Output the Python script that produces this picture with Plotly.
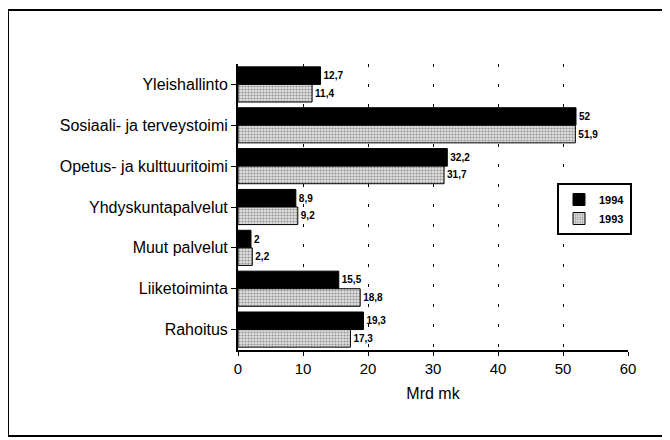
import plotly.graph_objects as go

categories = ["Yleishallinto", "Sosiaali- ja terveystoimi", "Opetus- ja kulttuuritoimi",
              "Yhdyskuntapalvelut", "Muut palvelut", "Liiketoiminta", "Rahoitus"]
values_1994 = [12.7, 52, 32.2, 8.9, 2, 15.5, 19.3]
values_1993 = [11.4, 51.9, 31.7, 9.2, 2.2, 18.8, 17.3]
labels_1994 = ["12,7", "52", "32,2", "8,9", "2", "15,5", "19,3"]
labels_1993 = ["11,4", "51,9", "31,7", "9,2", "2,2", "18,8", "17,3"]
x_ticks = [0, 10, 20, 30, 40, 50, 60]

font_main = "Liberation Sans, Arial, sans-serif"

# page offset of 8px (body margin) is compensated in the figure size / margins
L, R_EDGE, T, B_EDGE = 230, 620, 56, 342
W, H = 662, 432
PW, PH = R_EDGE - L, B_EDGE - T


def px(fx):
    return (fx - L) / PW


def py(fy):
    return (B_EDGE - fy) / PH


fig = go.Figure()
fig.add_trace(go.Bar(
    y=categories, x=values_1994, name="1994", orientation="h",
    marker=dict(color="black", line=dict(color="black", width=1)),
    text=labels_1994, textposition="outside", cliponaxis=False,
    textfont=dict(size=10, color="black", family=font_main, weight="bold"),
))
fig.add_trace(go.Bar(
    y=categories, x=values_1993, name="1993", orientation="h",
    marker=dict(color="#d9d9d9", line=dict(color="black", width=1),
                pattern=dict(shape=".", fgcolor="#444444", bgcolor="#e0e0e0", size=3, solidity=0.4)),
    text=labels_1993, textposition="outside", cliponaxis=False,
    textfont=dict(size=10, color="black", family=font_main, weight="bold"),
))

fig.update_layout(
    width=W, height=H,
    margin=dict(l=L, r=W - R_EDGE, t=T, b=H - B_EDGE),
    barmode="group", bargap=0.14, bargroupgap=0,
    plot_bgcolor="white", paper_bgcolor="white",
    font=dict(family=font_main, color="black"),
    showlegend=True,
    legend=dict(x=px(549), y=py(175), xanchor="left", yanchor="top",
                bgcolor="white", bordercolor="black", borderwidth=2,
                font=dict(size=11, family=font_main, weight="bold"),
                traceorder="normal", itemwidth=30, tracegroupgap=0),
    xaxis=dict(range=[0, 60], tickvals=x_ticks, ticktext=[str(v) for v in x_ticks],
               showgrid=True, gridcolor="black", gridwidth=1, griddash="3px,17px",
               showline=True, linecolor="black", linewidth=2,
               ticks="outside", ticklen=4, tickcolor="black",
               tickfont=dict(size=15, family=font_main),
               title=dict(text="Mrd mk", font=dict(size=16), standoff=12),
               zeroline=False, automargin=False),
    yaxis=dict(autorange="reversed", showline=True, linecolor="black", linewidth=2,
               ticks="outside", ticklen=5, tickcolor="black",
               tickfont=dict(size=16, family=font_main),
               showgrid=False, zeroline=False, automargin=False),
    shapes=[dict(type="rect", xref="paper", yref="paper",
                 x0=px(0), x1=px(658), y0=py(428), y1=py(2),
                 line=dict(color="black", width=2), fillcolor="rgba(0,0,0,0)", layer="below")],
)

fig.write_html("out.html")
